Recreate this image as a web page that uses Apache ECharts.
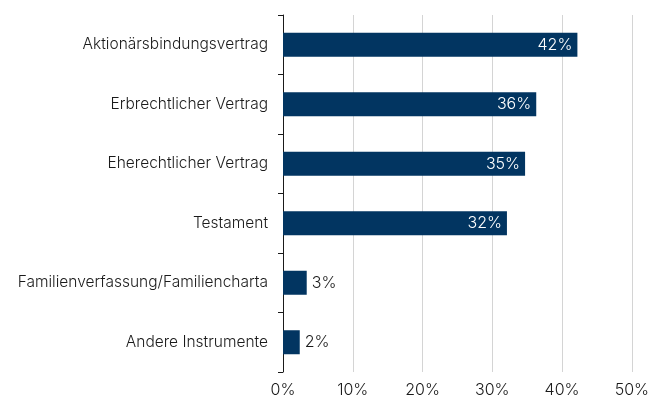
<!DOCTYPE html>
<html>
<head>
<meta charset="utf-8">
<script src="https://cdn.jsdelivr.net/npm/echarts@6/dist/echarts.min.js"></script>
<style>
  html, body { margin: 0; padding: 0; background: #fff; }
  #chart { width: 652px; height: 401px; }
</style>
</head>
<body>
<div id="chart"></div>
<script>
  // Kategorien von oben nach unten
  var categories = ['Aktionärsbindungsvertrag', 'Erbrechtlicher Vertrag', 'Eherechtlicher Vertrag',
    'Testament', 'Familienverfassung/Familiencharta', 'Andere Instrumente']
  // Werte in Prozent (aus Balkenlängen geschätzt)
  var values = [42.2, 36.3, 34.7, 32.1, 3.4, 2.4]
  var xTicks = [0, 10, 20, 30, 40, 50]

  var font = 'Inter'
  var barColor = '#023561'

  var chart = echarts.init(document.getElementById('chart'))

  var data = values.map(function (v) {
    var inside = v > 10
    return {
      value: v,
      label: {
        show: true,
        position: inside ? 'insideRight' : 'right',
        distance: 5,
        color: inside ? '#ffffff' : '#1a1a1a',
        fontFamily: font,
        fontWeight: 300,
        fontSize: 16,
        formatter: function (p) { return Math.round(p.value) + '%' }
      }
    }
  })

  chart.setOption({
    animation: false,
    grid: { left: 283, right: 19, top: 15, bottom: 29, containLabel: false },
    xAxis: {
      type: 'value',
      min: xTicks[0],
      max: xTicks[xTicks.length - 1],
      interval: 10,
      axisLine: { show: false },
      axisTick: { show: false },
      splitLine: { show: true, lineStyle: { color: '#d4d4d4', width: 1 } },
      axisLabel: {
        color: '#1a1a1a',
        fontFamily: font,
        fontWeight: 300,
        fontSize: 16,
        margin: 10,
        formatter: function (v) { return v + '%' }
      }
    },
    yAxis: {
      type: 'category',
      inverse: true,
      data: categories,
      axisLine: { show: true, lineStyle: { color: '#1a1a1a', width: 1 } },
      axisTick: { show: true, length: 5, lineStyle: { color: '#1a1a1a' } },
      axisLabel: {
        color: '#1a1a1a',
        fontFamily: font,
        fontWeight: 300,
        fontSize: 15.5,
        margin: 15
      }
    },
    series: [{
      type: 'bar',
      data: data,
      barWidth: 24,
      itemStyle: { color: barColor }
    }]
  })
</script>
</body>
</html>
